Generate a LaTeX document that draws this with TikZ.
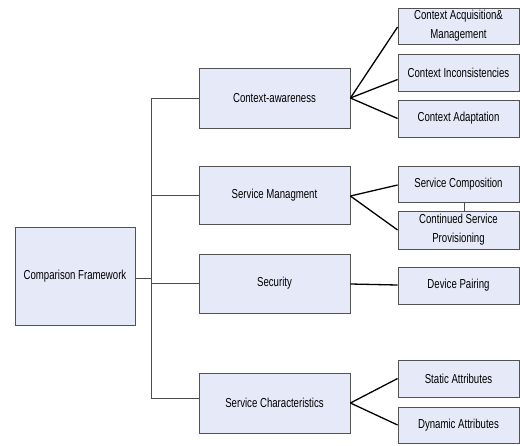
\documentclass[tikz,border=0pt]{standalone}
\usepackage{fontspec}
\setmainfont[FakeStretch=0.74]{Liberation Sans}
\begin{document}
\begin{tikzpicture}[x=1pt,y=-1pt,
  box/.style={draw=black!68, line width=0.8pt, fill=boxfill, inner sep=1pt, align=center,
              font=\fontsize{13}{19}\selectfont},
  tree/.style={draw=black!70, line width=0.8pt},
  fan/.style={draw=black, line width=1.3pt}]
\definecolor{boxfill}{HTML}{E6EAF8}
\useasboundingbox (0,0) rectangle (520,445);
% root
\node[box, minimum width=120pt, minimum height=98pt] (cf) at (75,276) {Comparison Framework};
% middle level
\node[box, minimum width=151pt, minimum height=60pt] (ca) at (274.5,98) {Context-awareness};
\node[box, minimum width=151pt, minimum height=58pt] (sm) at (274.5,195) {Service Managment};
\node[box, minimum width=151pt, minimum height=59pt] (sec) at (274.5,283.5) {Security};
\node[box, minimum width=151pt, minimum height=60pt] (sch) at (274.5,403) {Service Characteristics};
% leaves
\node[box, minimum width=121pt, minimum height=36pt] (cam) at (458.5,26) {Context Acquisition\&\\Management};
\node[box, minimum width=121pt, minimum height=37pt] (ci) at (458.5,72.5) {Context Inconsistencies};
\node[box, minimum width=121pt, minimum height=37pt] (cad) at (458.5,118.5) {Context Adaptation};
\node[box, minimum width=121pt, minimum height=36pt] (sc) at (458.5,184) {Service Composition};
\node[box, minimum width=121pt, minimum height=38pt] (csp) at (458.5,230) {Continued Service\\Provisioning};
\node[box, minimum width=121pt, minimum height=37pt] (dp) at (458.5,285.5) {Device Pairing};
\node[box, minimum width=121pt, minimum height=37pt] (sa) at (458.5,378.5) {Static Attributes};
\node[box, minimum width=121pt, minimum height=36pt] (da) at (458.5,425) {Dynamic Attributes};
% tree connectors
\coordinate (jt) at (151,98);
\coordinate (jb) at (151,398);
\coordinate (jr) at (151,278);
\draw[tree] (cf.east |- jr) -- (jr);
\draw[tree] (jt) -- (jb);
\draw[tree] (jt) -- (ca.west |- jt);
\draw[tree] (151,195) coordinate (j2) -- (sm.west |- j2);
\draw[tree] (151,283) coordinate (j3) -- (sec.west |- j3);
\draw[tree] (jb) -- (sch.west |- jb);
% fan connectors
\draw[fan] (ca.east) -- ([yshift=-1pt]cam.west);
\draw[fan] (ca.east) -- ([yshift=-7pt]ci.west);
\draw[fan] (ca.east) -- (cad.west);
\draw[fan] ([yshift=-1pt]sm.east) -- ([yshift=-1pt]sc.west);
\draw[fan] ([yshift=-1pt]sm.east) -- (csp.west);
\draw[fan] ([yshift=-0.5pt]sec.east) -- ([yshift=0.5pt]dp.west);
\draw[fan] (sch.east) -- (sa.west);
\draw[fan] (sch.east) -- (da.west);
\draw[tree, line width=0.6pt] ([xshift=5.5pt]sc.south) -- ([xshift=5.5pt]csp.north);
\end{tikzpicture}
\end{document}
